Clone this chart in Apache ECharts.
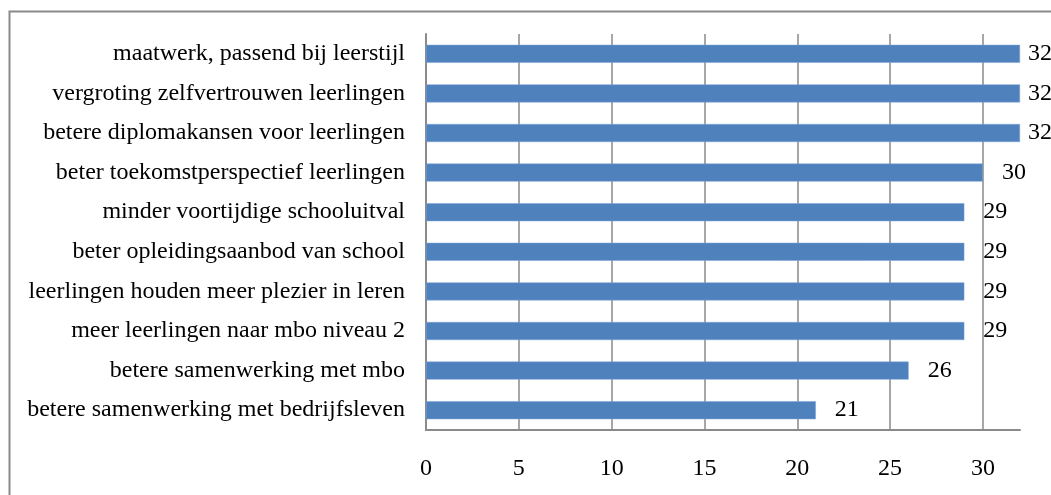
<!DOCTYPE html>
<html>
<head>
<meta charset="utf-8">
<script src="https://cdn.jsdelivr.net/npm/echarts@6/dist/echarts.min.js"></script>
<style>html,body{margin:0;padding:0;background:#fff;}#chart{width:1051px;height:495px;}</style>
</head>
<body>
<div id="chart"></div>
<script>
const categories = [
  "maatwerk, passend bij leerstijl",
  "vergroting zelfvertrouwen leerlingen",
  "betere diplomakansen voor leerlingen",
  "beter toekomstperspectief leerlingen",
  "minder voortijdige schooluitval",
  "beter opleidingsaanbod van school",
  "leerlingen houden meer plezier in leren",
  "meer leerlingen naar mbo niveau 2",
  "betere samenwerking met mbo",
  "betere samenwerking met bedrijfsleven"
];
const values = [32, 32, 32, 30, 29, 29, 29, 29, 26, 21];
const axisMin = 0, axisMax = 32, axisStep = 5;

const font = "'Liberation Serif', 'Times New Roman', serif";
const grey = '#8a8a8a';
const chart = echarts.init(document.getElementById('chart'));
chart.setOption({
  animation: false,
  backgroundColor: '#fff',
  graphic: [{
    type: 'rect', left: 7, top: 9, shape: {width: 1100, height: 600},
    style: {fill: 'none', stroke: grey, lineWidth: 2}, z: 100
  }],
  grid: {left: 426, right: 31, top: 34, bottom: 65, containLabel: false},
  xAxis: {
    type: 'value', min: axisMin, max: axisMax, interval: axisStep,
    axisLine: {show: true, lineStyle: {color: grey, width: 2}},
    axisTick: {show: false},
    axisLabel: {showMaxLabel: false, margin: 27, color: '#000', fontFamily: font, fontSize: 24},
    splitLine: {show: true, lineStyle: {color: [grey, grey, grey, grey, grey, grey, grey, 'rgba(0,0,0,0)'], width: 1.5}}
  },
  yAxis: {
    type: 'category', data: categories, inverse: true,
    axisLine: {show: true, lineStyle: {color: grey, width: 2}},
    axisTick: {show: false},
    axisLabel: {margin: 21, color: '#000', fontFamily: font, fontSize: 24},
    splitLine: {show: false}
  },
  series: [{
    type: 'bar',
    data: values.map(v => ({value: v, label: v >= axisMax ? {distance: 8} : undefined})),
    barWidth: 18,
    itemStyle: {color: '#4F81BD', borderColor: '#7aa3d6', borderWidth: 0.5},
    label: {show: true, position: 'right', distance: 19, color: '#000', fontFamily: font, fontSize: 24}
  }]
});
</script>
</body>
</html>
